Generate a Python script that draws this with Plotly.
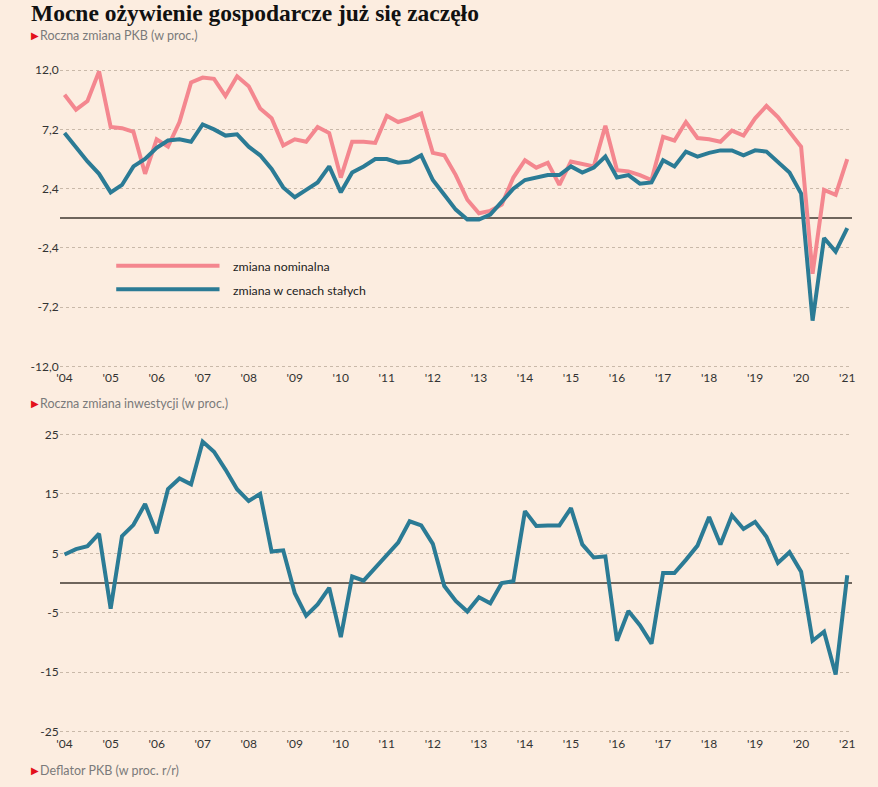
import pandas as pd
import plotly.graph_objects as go

W, H = 878, 787
bg = "#FCEDE0"
pink = "#F4878F"
blue = "#2B7B95"
grid_col = "#C9B9A9"
zero_col = "#6E655C"
label_col = "#333333"

# kwartały 2004 Q1 - 2021 Q1
quarters = pd.date_range("2004-01-01", "2021-01-01", freq="QS")

pkb_nominal = [10.0, 8.8, 9.5, 11.9, 7.4, 7.3, 7.0, 3.6, 6.4, 5.8, 7.8, 11.0,
               11.4, 11.3, 9.9, 11.5, 10.7, 8.9, 8.1, 5.9, 6.4, 6.2, 7.4, 6.9,
               3.3, 6.2, 6.2, 6.1, 8.3, 7.8, 8.1, 8.5, 5.3, 5.1, 3.5, 1.5,
               0.4, 0.6, 1.1, 3.3, 4.7, 4.1, 4.5, 2.7, 4.6, 4.4, 4.2, 7.5,
               3.9, 3.8, 3.5, 3.1, 6.6, 6.3, 7.8, 6.5, 6.4, 6.2, 7.1, 6.7,
               8.1, 9.1, 8.2, 7.0, 5.8, -4.5, 2.3, 1.9, 4.8]

pkb_real = [6.9, 5.7, 4.6, 3.6, 2.1, 2.7, 4.2, 4.8, 5.7, 6.3, 6.4, 6.2,
            7.6, 7.2, 6.7, 6.8, 5.8, 5.1, 4.0, 2.5, 1.7, 2.3, 2.9, 4.2,
            2.1, 3.7, 4.2, 4.8, 4.8, 4.5, 4.6, 5.1, 3.1, 1.9, 0.7, -0.1,
            -0.1, 0.3, 1.3, 2.4, 3.1, 3.3, 3.5, 3.5, 4.2, 3.7, 4.1, 5.0,
            3.3, 3.5, 2.8, 2.9, 4.7, 4.2, 5.4, 5.0, 5.3, 5.5, 5.5, 5.1,
            5.5, 5.4, 4.5, 3.7, 2.0, -8.3, -1.6, -2.7, -0.8]

investment = [4.8, 5.7, 6.2, 8.3, -4.3, 7.9, 9.8, 13.3, 8.4, 15.8, 17.6, 16.6,
              23.8, 22.1, 19.1, 15.8, 13.8, 15.0, 5.3, 5.5, -1.7, -5.5, -3.6, -0.8,
              -9.1, 1.1, 0.4, 2.5, 4.7, 6.8, 10.4, 9.7, 6.6, -0.5, -3.0, -4.8,
              -2.4, -3.4, 0.0, 0.3, 12.1, 9.6, 9.7, 9.7, 12.6, 6.5, 4.3, 4.5,
              -9.7, -4.7, -7.1, -10.2, 1.7, 1.7, 3.9, 6.3, 11.1, 6.5, 11.4, 9.1,
              10.3, 7.8, 3.4, 5.2, 1.9, -9.7, -8.2, -15.4, 1.3]

year_ticks = ["%d-01-01" % y for y in range(2004, 2022)]
year_labels = ["'04", "'05", "'06", "'07", "'08", "'09", "'10", "'11", "'12",
               "'13", "'14", "'15", "'16", "'17", "'18", "'19", "'20", "'21"]

pkb_ticks = [12.0, 7.2, 2.4, -2.4, -7.2, -12.0]
pkb_labels = ["12,0", "7,2", "2,4", "-2,4", "-7,2", "-12,0"]
inv_ticks = [25, 15, 5, -5, -15, -25]
inv_labels = ["25", "15", "5", "-5", "-15", "-25"]


def px(x):
    return x / W


def py(y):
    return 1 - y / H


fig = go.Figure()
fig.add_trace(go.Scatter(x=quarters, y=pkb_nominal, mode="lines", name="zmiana nominalna",
                         line=dict(color=pink, width=4), xaxis="x", yaxis="y"))
fig.add_trace(go.Scatter(x=quarters, y=pkb_real, mode="lines", name="zmiana w cenach stałych",
                         line=dict(color=blue, width=4), xaxis="x", yaxis="y"))
fig.add_trace(go.Scatter(x=quarters, y=investment, mode="lines", name="inwestycje",
                         line=dict(color=blue, width=4), xaxis="x2", yaxis="y2"))

xcommon = dict(type="date", range=["2003-11-23", "2021-02-09"], domain=[px(57), px(855)],
               tickvals=year_ticks, ticktext=year_labels, showgrid=False, zeroline=False,
               showline=False, ticks="", tickfont=dict(family="Lato", size=12, color=label_col))
ycommon = dict(showgrid=True, gridcolor=grid_col, gridwidth=1, griddash="3px,3px",
               zeroline=True, zerolinecolor=zero_col, zerolinewidth=1.5, showline=False,
               ticks="", tickfont=dict(family="Lato", size=12, color=label_col))

fig.update_layout(
    width=W, height=H, paper_bgcolor=bg, plot_bgcolor=bg,
    margin=dict(l=0, r=0, t=0, b=0), showlegend=False,
    xaxis=dict(xcommon, anchor="y"),
    yaxis=dict(ycommon, range=[-12.2, 12.2], domain=[py(368.5), py(63.5)],
               tickvals=pkb_ticks, ticktext=pkb_labels, anchor="x"),
    xaxis2=dict(xcommon, anchor="y2"),
    yaxis2=dict(ycommon, range=[-25.5, 25.5], domain=[py(739), py(432)],
                tickvals=inv_ticks, ticktext=inv_labels, anchor="x2"),
)

# tytuł i podtytuły
fig.add_annotation(text="<b>Mocne ożywienie gospodarcze już się zaczęło</b>", xref="paper", yref="paper",
                   x=px(26), y=py(8), xanchor="left", yanchor="middle", showarrow=False,
                   font=dict(family="Liberation Serif", size=23.5, color="#111111"))
for txt, ypos in [("Roczna zmiana PKB (w proc.)", 31),
                  ("Roczna zmiana inwestycji (w proc.)", 404),
                  ("Deflator PKB (w proc. r/r)", 775)]:
    fig.add_annotation(text="▶", xref="paper", yref="paper", x=px(26), y=py(ypos),
                       xanchor="left", yanchor="middle", showarrow=False,
                       font=dict(family="DejaVu Sans", size=10, color="#E3111B"))
    fig.add_annotation(text=txt, xref="paper", yref="paper", x=px(35), y=py(ypos),
                       xanchor="left", yanchor="middle", showarrow=False,
                       font=dict(family="Lato", size=12.5, color="#7A7A7A"))

# legenda
for name, col, ypos in [("zmiana nominalna", pink, 264), ("zmiana w cenach stałych", blue, 288)]:
    fig.add_shape(type="line", xref="paper", yref="paper", x0=px(114), x1=px(218),
                  y0=py(ypos), y1=py(ypos), line=dict(color=col, width=4))
    fig.add_annotation(text=name, xref="paper", yref="paper", x=px(230), y=py(ypos + 1),
                       xanchor="left", yanchor="middle", showarrow=False,
                       font=dict(family="Lato", size=12.3, color="#222222"))

fig.write_html("out.html", config={"displayModeBar": False},
               post_script="document.body.style.margin='0';"
                           "document.body.style.background='%s';"
                           "document.documentElement.style.overflow='hidden';" % bg)
